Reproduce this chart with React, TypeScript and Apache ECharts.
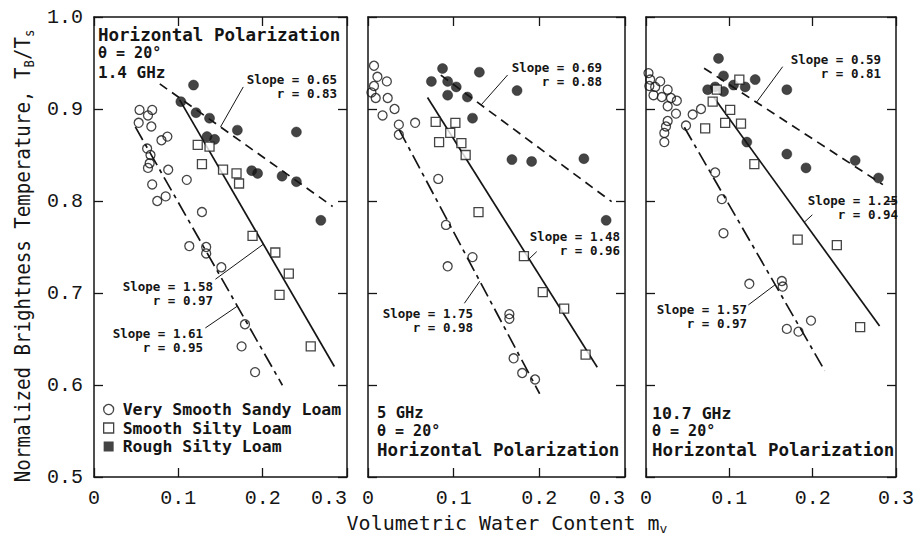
import React, { useEffect, useRef } from "react";
import * as echarts from "echarts";

// Series names shared by all three frequency panels
const SANDY = "Very Smooth Sandy Loam";
const SILTY = "Smooth Silty Loam";
const ROUGH = "Rough Silty Loam";

const frequencies = ["1.4 GHz", "5 GHz", "10.7 GHz"];
const xTickValues = [0, 0.1, 0.2, 0.3];
const yTickValues = [0.5, 0.6, 0.7, 0.8, 0.9, 1.0];

// 1.4 GHz: [mv, TB/Ts]
const sandy14 = [
  [0.054, 0.899], [0.069, 0.899], [0.064, 0.893], [0.053, 0.885], [0.068, 0.881],
  [0.087, 0.87], [0.08, 0.866], [0.063, 0.857], [0.067, 0.85], [0.066, 0.841],
  [0.064, 0.836], [0.088, 0.834], [0.11, 0.823], [0.069, 0.818], [0.085, 0.805],
  [0.075, 0.8], [0.128, 0.788], [0.113, 0.751], [0.133, 0.75], [0.133, 0.743],
  [0.151, 0.728], [0.179, 0.666], [0.175, 0.642], [0.191, 0.614],
];
const silty14 = [
  [0.123, 0.861], [0.137, 0.859], [0.128, 0.84], [0.153, 0.834], [0.169, 0.83],
  [0.172, 0.819], [0.188, 0.762], [0.215, 0.744], [0.231, 0.721], [0.22, 0.698],
  [0.257, 0.642],
];
const rough14 = [
  [0.118, 0.926], [0.103, 0.908], [0.121, 0.896], [0.137, 0.89], [0.17, 0.877],
  [0.24, 0.875], [0.134, 0.87], [0.143, 0.867], [0.187, 0.833], [0.194, 0.83],
  [0.223, 0.827], [0.24, 0.821], [0.269, 0.779],
];

// 5 GHz
const sandy5 = [
  [0.007, 0.947], [0.011, 0.935], [0.022, 0.93], [0.007, 0.925], [0.004, 0.918],
  [0.009, 0.912], [0.023, 0.912], [0.031, 0.9], [0.017, 0.893], [0.036, 0.883],
  [0.036, 0.872], [0.055, 0.885], [0.082, 0.824], [0.091, 0.774], [0.122, 0.739],
  [0.093, 0.729], [0.165, 0.677], [0.165, 0.672], [0.17, 0.629], [0.18, 0.613],
  [0.195, 0.606],
];
const silty5 = [
  [0.079, 0.886], [0.102, 0.885], [0.096, 0.874], [0.083, 0.864], [0.109, 0.863],
  [0.114, 0.85], [0.129, 0.788], [0.182, 0.74], [0.204, 0.701], [0.229, 0.683],
  [0.254, 0.633],
];
const rough5 = [
  [0.087, 0.944], [0.13, 0.94], [0.074, 0.93], [0.093, 0.93], [0.103, 0.924],
  [0.093, 0.915], [0.116, 0.913], [0.174, 0.92], [0.122, 0.89], [0.168, 0.845],
  [0.191, 0.843], [0.252, 0.846], [0.278, 0.779],
];

// 10.7 GHz
const sandy107 = [
  [0.003, 0.939], [0.005, 0.932], [0.017, 0.93], [0.004, 0.925], [0.011, 0.924],
  [0.026, 0.921], [0.009, 0.915], [0.019, 0.913], [0.03, 0.912], [0.037, 0.909],
  [0.026, 0.903], [0.036, 0.895], [0.026, 0.887], [0.024, 0.881], [0.022, 0.874],
  [0.022, 0.864], [0.056, 0.894], [0.066, 0.9], [0.048, 0.882], [0.083, 0.831],
  [0.091, 0.802], [0.093, 0.765], [0.124, 0.71], [0.163, 0.713], [0.164, 0.707],
  [0.169, 0.661], [0.183, 0.658], [0.198, 0.67],
];
const silty107 = [
  [0.112, 0.932], [0.085, 0.921], [0.08, 0.908], [0.101, 0.899], [0.095, 0.885],
  [0.114, 0.884], [0.071, 0.879], [0.13, 0.84], [0.182, 0.758], [0.229, 0.752],
  [0.257, 0.663],
];
const rough107 = [
  [0.087, 0.955], [0.093, 0.936], [0.131, 0.932], [0.119, 0.924], [0.105, 0.926],
  [0.083, 0.924], [0.074, 0.921], [0.093, 0.919], [0.169, 0.921], [0.121, 0.864],
  [0.169, 0.851], [0.192, 0.836], [0.251, 0.844], [0.279, 0.825],
];

// Regression fits, ordered [rough, silty, sandy]
const slopes14 = [0.65, 1.58, 1.61];
const rValues14 = [0.83, 0.97, 0.95];
const intercepts14 = [0.978, 1.0704, 0.9594];
const fitRanges14 = [[0.078, 0.283], [0.1016, 0.285], [0.049, 0.2234]];

const slopes5 = [0.69, 1.48, 1.75];
const rValues5 = [0.88, 0.96, 0.98];
const intercepts5 = [0.9955, 1.0153, 0.9412];
const fitRanges5 = [[0.085, 0.2844], [0.0695, 0.2676], [0.0363, 0.2004]];

const slopes107 = [0.59, 1.25, 1.57];
const rValues107 = [0.81, 0.94, 0.97];
const intercepts107 = [0.9855, 1.0144, 0.9524];
const fitRanges107 = [[0.0697, 0.2843], [0.0815, 0.2803], [0.046, 0.2146]];

const panels = [
  { sandy: sandy14, silty: silty14, rough: rough14, slopes: slopes14, rs: rValues14, b: intercepts14, ranges: fitRanges14 },
  { sandy: sandy5, silty: silty5, rough: rough5, slopes: slopes5, rs: rValues5, b: intercepts5, ranges: fitRanges5 },
  { sandy: sandy107, silty: silty107, rough: rough107, slopes: slopes107, rs: rValues107, b: intercepts107, ranges: fitRanges107 },
];

// ---- layout ----
const INK = "#151515";
const MONO = '"DejaVu Sans Mono", monospace';
const TICK_FONT = '"Liberation Mono", monospace';

const gridBoxes = [
  { left: 94, top: 17, width: 253, height: 460 },
  { left: 368, top: 17, width: 257, height: 460 },
  { left: 646, top: 17, width: 254, height: 460 },
];

// slope / r label placement: right edge and the centre between the two rows
const labelSpots = [
  [{ right: 337, cy: 86 }, { right: 213, cy: 293 }, { right: 203, cy: 340 }],
  [{ right: 602, cy: 74 }, { right: 620, cy: 243 }, { right: 473, cy: 320 }],
  [{ right: 881, cy: 66 }, { right: 898, cy: 207 }, { right: 747, cy: 316 }],
];
const LABEL_ROW_GAP = 14;

// leader lines from each label to its fit line, in axis units
const leaders = [
  [[[0.177, 0.924], [0.15, 0.8805]], [[0.144, 0.715], [0.2008, 0.753]], [[0.132, 0.662], [0.17, 0.6857]]],
  [[[0.163, 0.937], [0.132, 0.9044]], [[0.197, 0.745], [0.188, 0.737]], [[0.1125, 0.6888], [0.1305, 0.7128]]],
  [[[0.164, 0.946], [0.1326, 0.9073]], [[0.1996, 0.785], [0.19, 0.777]], [[0.1228, 0.687], [0.155, 0.709]]],
];

const fitDash = [
  [9, 6],          // rough: dashed
  "solid",        // silty: solid
  [15, 5, 4, 5],   // sandy: long-short dash
];

function buildOption() {
  const grid = gridBoxes.map((g) => ({ ...g, containLabel: false }));
  const xAxis: any[] = [];
  const yAxis: any[] = [];
  const axisLine = { show: true, onZero: false, lineStyle: { color: INK, width: 1.5 } };
  const axisTick = { show: true, inside: true, length: 9, lineStyle: { color: INK, width: 1.3 } };

  gridBoxes.forEach((_, i) => {
    xAxis.push({
      type: "value", gridIndex: i, min: xTickValues[0], max: xTickValues[xTickValues.length - 1],
      interval: 0.1, position: "bottom",
      axisLine, axisTick, splitLine: { show: false },
      axisLabel: {
        show: true, margin: 11, color: INK, fontFamily: TICK_FONT, fontSize: 20,
        formatter: (v: number) => (v === 0 ? "0" : v.toFixed(1)),
        showMinLabel: true, showMaxLabel: true,
        alignMaxLabel: i < 2 ? "right" : "center",
      },
    });
    xAxis.push({
      type: "value", gridIndex: i, min: xTickValues[0], max: xTickValues[xTickValues.length - 1],
      interval: 0.1, position: "top",
      axisLine, axisTick, splitLine: { show: false }, axisLabel: { show: false },
    });
    yAxis.push({
      type: "value", gridIndex: i, min: yTickValues[0], max: yTickValues[yTickValues.length - 1],
      interval: 0.1, position: "left",
      axisLine, axisTick, splitLine: { show: false },
      axisLabel: {
        show: i === 0, margin: 11, color: INK, fontFamily: TICK_FONT, fontSize: 20,
        formatter: (v: number) => v.toFixed(1),
      },
    });
    yAxis.push({
      type: "value", gridIndex: i, min: yTickValues[0], max: yTickValues[yTickValues.length - 1],
      interval: 0.1, position: "right",
      axisLine, axisTick, splitLine: { show: false }, axisLabel: { show: false },
    });
  });

  const series: any[] = [];
  panels.forEach((p, i) => {
    const axes = { xAxisIndex: 2 * i, yAxisIndex: 2 * i };
    p.slopes.forEach((s, k) => {
      const [x0, x1] = p.ranges[k];
      series.push({
        type: "line", name: `fit-${i}-${k}`, ...axes, silent: true, showSymbol: false, z: 1,
        data: [[x0, p.b[k] - s * x0], [x1, p.b[k] - s * x1]],
        lineStyle: { color: INK, width: 1.7, type: fitDash[k] },
      });
      series.push({
        type: "line", name: `leader-${i}-${k}`, ...axes, silent: true, showSymbol: false, z: 1,
        data: leaders[i][k],
        lineStyle: { color: INK, width: 1 },
      });
    });
    series.push({
      type: "scatter", name: ROUGH, ...axes, symbol: "circle", symbolSize: 10, z: 3,
      data: p.rough, itemStyle: { color: INK, borderColor: INK, borderWidth: 0.5 },
    });
    series.push({
      type: "scatter", name: SILTY, ...axes, symbol: "rect", symbolSize: 9, z: 4,
      data: p.silty, itemStyle: { color: "#ffffff", borderColor: INK, borderWidth: 1.3 },
    });
    series.push({
      type: "scatter", name: SANDY, ...axes, symbol: "circle", symbolSize: 9, z: 4,
      data: p.sandy, itemStyle: { color: "rgba(255,255,255,0)", borderColor: INK, borderWidth: 1.3 },
    });
  });

  const graphic: any[] = [];
  const txt = (text: string, x: number, y: number, size: number, align = "left") => ({
    type: "text", x, y, silent: true,
    style: {
      text, fill: INK, fontFamily: MONO, fontSize: size, fontWeight: "bold", align,
      verticalAlign: "middle",
    },
  });

  // measurement conditions
  graphic.push(txt("Horizontal Polarization", 98, 35, 17.5));
  graphic.push(txt("θ = 20°", 98, 53, 15));
  graphic.push(txt(frequencies[0], 98, 72, 16));
  graphic.push(txt(frequencies[1], 377, 413, 15.5));
  graphic.push(txt("θ = 20°", 377, 431, 15));
  graphic.push(txt("Horizontal Polarization", 377, 450, 17.5));
  graphic.push(txt(frequencies[2], 652, 413, 16.5));
  graphic.push(txt("θ = 20°", 652, 431, 15));
  graphic.push(txt("Horizontal Polarization", 652, 450, 17.5));

  // slope / correlation labels, two right-aligned rows each
  panels.forEach((p, i) => {
    p.slopes.forEach((s, k) => {
      const spot = labelSpots[i][k];
      graphic.push(txt(`Slope = ${s.toFixed(2)}`, spot.right, spot.cy - LABEL_ROW_GAP / 2, 12.5, "right"));
      graphic.push(txt(`r = ${p.rs[k].toFixed(2)}`, spot.right, spot.cy + LABEL_ROW_GAP / 2, 12.5, "right"));
    });
  });

  // axis titles
  graphic.push({
    type: "text", x: 23, y: 256, rotation: Math.PI / 2, scaleX: 0.87, silent: true,
    style: {
      text: "{a|Normalized Brightness Temperature, T}{s|B}{a|/T}{s|s}",
      align: "center", verticalAlign: "middle", fill: INK,
      rich: {
        a: { fontFamily: MONO, fontSize: 22, lineHeight: 28, fill: INK },
        s: { fontFamily: MONO, fontSize: 14, padding: [13, 0, 0, 0], fill: INK },
      },
    },
  });
  graphic.push({
    type: "text", x: 507, y: 523, silent: true,
    style: {
      text: "{a|Volumetric Water Content m}{s|v}",
      align: "center", verticalAlign: "middle", fill: INK,
      rich: {
        a: { fontFamily: MONO, fontSize: 20, lineHeight: 26, fill: INK },
        s: { fontFamily: MONO, fontSize: 13, padding: [10, 0, 0, 0], fill: INK },
      },
    },
  });

  const legendText = { fontFamily: MONO, fontSize: 16.5, fontWeight: "bold", color: INK, padding: [0, 0, 0, 4] };
  return {
    animation: false,
    backgroundColor: "#ffffff",
    grid,
    xAxis,
    yAxis,
    series,
    graphic,
    legend: {
      orient: "vertical", left: 98, top: 396, itemWidth: 10, itemHeight: 10, itemGap: 1.5,
      selectedMode: false, textStyle: legendText,
      data: [
        { name: SANDY, icon: "circle", itemStyle: { color: "rgba(255,255,255,0)", borderColor: INK, borderWidth: 1.3 } },
        { name: SILTY, icon: "rect", itemStyle: { color: "#ffffff", borderColor: INK, borderWidth: 1.3 } },
        { name: ROUGH, icon: "rect", itemStyle: { color: INK, borderColor: INK, borderWidth: 0 } },
      ],
    },
  };
}

export default function App() {
  const ref = useRef<HTMLDivElement>(null);
  useEffect(() => {
    if (!ref.current) return;
    const chart = echarts.init(ref.current, undefined, { renderer: "svg" });
    chart.setOption(buildOption() as any);
    return () => chart.dispose();
  }, []);
  return (
    <div
      ref={ref}
      style={{ position: "absolute", left: 0, top: 0, width: 917, height: 537 }}
    />
  );
}
